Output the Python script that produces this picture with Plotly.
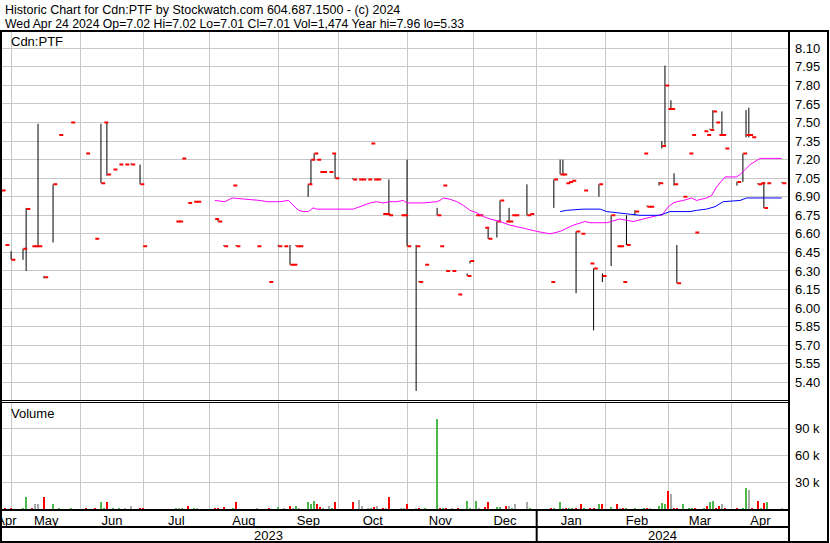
import plotly.graph_objects as go

# ---------------- data ----------------
# trading-day position of each bar (0 = first visible day)
day = [0.0, 1.2, 3.1, 6.9, 7.9, 9.8, 10.7, 11.7, 13.6, 16.5, 18.4, 22.2, 27.0, 29.9, 31.8, 32.8, 33.7,
       35.7, 37.6, 39.5, 41.4, 44.3, 45.2, 55.8, 56.7, 57.7, 59.6, 61.5, 62.5, 68.2, 69.2, 71.1, 74.0,
       75.0, 81.7, 85.5, 88.4, 90.3, 92.2, 93.2, 94.1, 95.1, 98.0, 98.9, 99.9, 100.8, 101.8, 102.7,
       104.7, 105.6, 106.6, 112.3, 114.2, 115.2, 117.1, 118.1, 119.0, 120.0, 121.9, 122.9, 123.8,
       127.7, 128.6, 129.6, 132.5, 133.4, 135.3, 139.2, 140.1, 141.1, 142.0, 144.0, 145.9, 148.8,
       149.7, 151.6, 152.6, 154.5, 155.5, 158.3, 159.3, 161.2, 162.2, 163.1, 164.1, 167.9, 168.9,
       175.6, 176.5, 178.5, 179.4, 180.4, 181.3, 182.3, 183.6, 185.2, 186.1, 188.1, 189.2, 190.9,
       192.0, 194.8, 196.7, 197.6, 198.6, 199.7, 202.4, 205.3, 206.3, 207.2, 210.1, 211.0, 212.0,
       213.0, 213.9, 214.9, 215.8, 217.8, 219.7, 220.6, 221.6, 224.5, 225.4, 226.4, 227.3, 228.3,
       229.3, 230.2, 231.2, 235.0, 236.9, 237.9, 238.8, 239.8, 241.7, 242.7, 243.6, 244.6, 249.4]
high = [6.96, 6.51, 6.46, 6.48, 6.81, 6.50, 6.50, 7.49, 6.26, 7.00, 7.40, 7.50, 7.25, 6.56, 7.49, 7.50, 7.50,
        7.12, 7.16, 7.16, 7.17, 7.16, 6.50, 6.70, 6.70, 7.21, 6.85, 6.86, 6.86, 6.72, 6.72, 6.51, 6.99,
        6.51, 6.50, 6.21, 6.51, 6.50, 6.51, 6.35, 6.51, 6.50, 7.00, 7.20, 7.25, 7.20, 7.10, 7.10,
        7.10, 7.25, 7.25, 7.05, 7.04, 7.04, 7.04, 7.33, 7.04, 7.04, 6.76, 6.76, 7.04,
        6.75, 6.75, 7.20, 6.51, 6.22, 6.35, 6.81, 6.50, 6.99, 6.30, 6.30, 6.11, 6.28,
        6.38, 6.75, 6.75, 6.65, 6.65, 6.70, 6.87, 6.70, 6.81, 6.75, 6.75, 7.00, 6.76,
        6.21, 7.04, 7.20, 7.20, 7.01, 7.02, 7.03, 6.62, 6.60, 6.95, 6.36, 6.32, 7.00,
        6.28, 6.75, 6.50, 6.50, 6.21, 6.75, 6.79, 7.25, 6.83, 6.82, 7.02, 7.35, 7.96,
        7.61, 7.68, 7.09, 6.51, 6.90, 7.25, 7.40, 6.61, 7.43, 7.40, 7.45, 7.60, 7.50,
        7.40, 7.59, 7.29, 7.02, 7.25, 7.60, 7.62, 7.38, 7.01, 7.01, 7.02, 7.01, 7.02]
low = [6.86, 6.51, 6.39, 6.39, 6.30, 6.50, 6.50, 6.50, 6.24, 6.53, 7.40, 7.50, 7.25, 6.56, 7.01, 7.50, 7.07,
       7.12, 7.16, 7.16, 7.16, 7.00, 6.50, 6.70, 6.70, 7.21, 6.85, 6.86, 6.86, 6.72, 6.70, 6.50, 6.99,
       6.50, 6.50, 6.21, 6.50, 6.50, 6.35, 6.35, 6.50, 6.50, 6.90, 7.00, 7.20, 7.20, 7.10, 7.10,
       7.10, 7.25, 7.05, 7.04, 7.04, 7.04, 7.04, 7.33, 7.04, 7.04, 6.76, 6.76, 6.75,
       6.75, 6.75, 6.50, 5.33, 6.21, 6.35, 6.75, 6.50, 6.99, 6.30, 6.30, 6.11, 6.26,
       6.36, 6.75, 6.75, 6.65, 6.56, 6.57, 6.70, 6.70, 6.70, 6.75, 6.75, 6.75, 6.76,
       6.21, 6.81, 7.08, 7.08, 7.01, 7.02, 7.03, 6.12, 6.60, 6.95, 6.36, 5.82, 6.90,
       6.21, 6.34, 6.50, 6.50, 6.21, 6.51, 6.75, 7.25, 6.82, 6.82, 6.99, 7.29, 7.32,
       7.61, 7.61, 6.99, 6.20, 6.90, 7.25, 7.40, 6.61, 7.43, 7.40, 7.44, 7.45, 7.50,
       7.40, 7.40, 7.29, 6.99, 7.02, 7.38, 7.38, 7.38, 7.00, 7.01, 6.81, 7.01, 7.01]
close = [6.95, 6.51, 6.39, 6.48, 6.80, 6.50, 6.50, 6.50, 6.25, 7.00, 7.40, 7.50, 7.25, 6.56, 7.01, 7.50, 7.08,
         7.12, 7.16, 7.16, 7.16, 7.00, 6.50, 6.70, 6.70, 7.21, 6.85, 6.86, 6.86, 6.72, 6.70, 6.50, 6.99,
         6.50, 6.50, 6.21, 6.50, 6.50, 6.35, 6.35, 6.50, 6.50, 7.00, 7.20, 7.25, 7.20, 7.10, 7.10,
         7.10, 7.25, 7.05, 7.04, 7.04, 7.04, 7.04, 7.33, 7.04, 7.04, 6.76, 6.76, 6.75,
         6.75, 6.75, 6.50, 6.50, 6.21, 6.35, 6.75, 6.50, 6.99, 6.30, 6.30, 6.11, 6.26,
         6.38, 6.75, 6.75, 6.65, 6.56, 6.70, 6.87, 6.70, 6.70, 6.75, 6.75, 6.75, 6.76,
         6.21, 7.04, 7.08, 7.08, 7.01, 7.02, 7.03, 6.62, 6.60, 6.95, 6.36, 6.32, 7.00,
         6.26, 6.75, 6.50, 6.50, 6.21, 6.51, 6.78, 7.25, 6.82, 6.82, 7.01, 7.31, 7.80,
         7.61, 7.61, 7.00, 6.20, 6.90, 7.25, 7.40, 6.61, 7.43, 7.40, 7.44, 7.59, 7.50,
         7.40, 7.40, 7.29, 7.02, 7.25, 7.40, 7.40, 7.38, 7.00, 7.01, 6.81, 7.01, 7.01]
volume = [2500, 2000, 1000, 2000, 14400, 1000, 5600, 5600, 14400, 5600, 1000, 1000, 1000, 2000, 8900, 2000, 8900,
          1000, 1000, 1000, 4400, 2000, 1000, 1000, 1000, 1000, 4400, 1000, 1000, 2000, 1000, 3300, 2000,
          8900, 1000, 1000, 3300, 1000, 4400, 1000, 4400, 1000, 8900, 5600, 10000, 5600, 3300, 2000,
          4400, 1000, 8900, 8900, 11100, 4400, 2000, 1000, 3300, 4400, 1000, 1000, 14400,
          2000, 1000, 6700, 1000, 2000, 1000, 101400, 2000, 2000, 1000, 1000, 1000, 10000,
          1000, 10000, 1000, 3300, 8900, 3300, 3300, 4400, 4400, 1000, 5600, 8900, 1000,
          1000, 1000, 8900, 2000, 1000, 1000, 1000, 1000, 6700, 2000, 2000, 2000, 5600,
          5600, 3300, 5600, 1000, 1000, 1000, 1000, 1000, 1000, 1000, 4400, 7800, 6700,
          21100, 17800, 1000, 1000, 6700, 1000, 1000, 1000, 2000, 4400, 8900, 10000, 1000,
          4400, 6700, 2000, 2000, 2000, 24400, 22200, 2000, 10000, 2000, 7800, 8900, 1474]

# moving averages (magenta = short, blue = long)
ma_short_day = [68.2, 71.4, 73.7, 78.4, 82.6, 84.8, 89.0, 91.7, 93.3, 94.9, 96.5, 98.1, 99.6, 100.7,
                112.4, 115.6, 117.8, 119.9, 122.0, 124.2, 126.3, 128.4, 129.5, 134.8, 139.1, 140.1,
                141.2, 143.3, 145.5, 147.6, 149.7, 151.9, 154.0, 156.1, 159.3, 162.5, 164.6, 167.8,
                171.0, 175.3, 178.5, 182.7, 186.5, 188.1, 193.4, 197.6, 201.9, 206.2, 209.9, 211.0,
                213.1, 214.7, 215.8, 217.9, 220.5, 222.1, 225.3, 226.9, 228.5, 231.2, 234.9, 236.0,
                239.2, 242.4, 245.6, 249.3]
ma_short = [6.87, 6.86, 6.89, 6.88, 6.87, 6.86, 6.86, 6.87, 6.83, 6.79, 6.78, 6.78, 6.81, 6.80,
            6.80, 6.83, 6.85, 6.86, 6.85, 6.86, 6.86, 6.87, 6.85, 6.85, 6.86, 6.87,
            6.89, 6.88, 6.86, 6.83, 6.79, 6.77, 6.74, 6.72, 6.70, 6.67, 6.66, 6.64,
            6.62, 6.60, 6.62, 6.67, 6.70, 6.69, 6.69, 6.72, 6.70, 6.73, 6.75, 6.75,
            6.82, 6.85, 6.86, 6.87, 6.89, 6.87, 6.89, 6.91, 6.98, 7.06, 7.06, 7.08,
            7.16, 7.21, 7.21, 7.21]
ma_long_day = [178.5, 180.6, 185.9, 191.3, 193.4, 197.6, 199.8, 204.0, 209.9, 211.5, 213.6, 216.8,
               220.0, 222.1, 225.3, 228.0, 230.6, 236.0, 238.1, 246.6, 249.3]
ma_long = [6.78, 6.79, 6.80, 6.80, 6.78, 6.77, 6.76, 6.75, 6.75, 6.76, 6.78, 6.78,
           6.78, 6.79, 6.80, 6.82, 6.86, 6.87, 6.89, 6.89, 6.89]

# axes / labels
month_names = ["Apr", "May", "Jun", "Jul", "Aug", "Sep", "Oct", "Nov", "Dec", "Jan", "Feb", "Mar", "Apr"]
month_starts = [3.29, 25.34, 45.34, 66.42, 88.47, 107.64, 129.68, 150.77, 171.02, 193.07, 213.07, 233.32]
year_names = ["2023", "2024"]
year_break = 171.02
x_range = [-0.13, 251.63]
price_ticks = [5.40, 5.55, 5.70, 5.85, 6.00, 6.15, 6.30, 6.45, 6.60, 6.75, 6.90, 7.05, 7.20,
               7.35, 7.50, 7.65, 7.80, 7.95, 8.10]
price_range = [5.2528, 8.2399]
vol_ticks = [30000, 60000, 90000]
vol_tick_text = ["30 k", "60 k", "90 k"]
vol_range = [0, 118900]

title1 = "Historic Chart for Cdn:PTF by Stockwatch.com 604.687.1500 - (c) 2024"
title2 = "Wed Apr 24 2024 Op=7.02 Hi=7.02 Lo=7.01 Cl=7.01 Vol=1,474 Year hi=7.96 lo=5.33"

# ---------------- figure ----------------
FONT = "Liberation Sans, Arial, sans-serif"
GRID = "#c8c8c8"
W, H = 830, 543
PL, PR, PT, PB = 1, 789, 31, 509          # plot area in pixels


def pxx(p):
    return (p - PL) / (PR - PL)


def pxy(p):
    return (PB - p) / (PB - PT)


fig = go.Figure()

# high-low lines
hx, hy = [], []
for d, hi, lo in zip(day, high, low):
    if hi > lo:
        hx += [d, d, None]
        hy += [lo, hi, None]
fig.add_trace(go.Scatter(x=hx, y=hy, mode="lines", line=dict(color="black", width=1),
                         xaxis="x", yaxis="y", hoverinfo="skip", showlegend=False))

# close ticks
cx, cy = [], []
for d, c in zip(day, close):
    cx += [d + 0.1, d + 1.35, None]
    cy += [c, c, None]
fig.add_trace(go.Scatter(x=cx, y=cy, mode="lines", line=dict(color="#ff0000", width=2),
                         xaxis="x", yaxis="y", hoverinfo="skip", showlegend=False))

# moving averages
fig.add_trace(go.Scatter(x=ma_short_day, y=ma_short, mode="lines", line=dict(color="#ff00ff", width=1),
                         xaxis="x", yaxis="y", showlegend=False))
fig.add_trace(go.Scatter(x=ma_long_day, y=ma_long, mode="lines", line=dict(color="#0000ff", width=1),
                         xaxis="x", yaxis="y", showlegend=False))

# volume bars coloured by close change
vcol = []
prev = None
for c in close:
    if prev is None or c == prev:
        vcol.append("#a9a9a9")
    elif c > prev:
        vcol.append("#4cb84c")
    else:
        vcol.append("#ff0000")
    prev = c
fig.add_trace(go.Bar(x=day, y=volume, width=0.64, marker=dict(color=vcol, line=dict(width=0)),
                     xaxis="x2", yaxis="y2", showlegend=False))

# month label positions: centre of the visible part of each month
bounds = [x_range[0]] + month_starts + [x_range[1]]
month_centers = [(a + b) / 2 for a, b in zip(bounds[:-1], bounds[1:])]
year_centers = [(x_range[0] + year_break) / 2, (year_break + x_range[1]) / 2]

price_bottom = pxy(400.5)
vol_top = pxy(402.5)

fig.update_layout(
    width=W, height=H,
    margin=dict(l=PL, r=W - PR, t=PT, b=H - PB, pad=0, autoexpand=False),
    paper_bgcolor="white", plot_bgcolor="white",
    font=dict(family=FONT, size=13, color="black"),
    showlegend=False, bargap=0,
    xaxis=dict(domain=[0, 1], anchor="y", range=x_range, tickmode="array", tickvals=month_starts,
               showticklabels=False, showgrid=True, gridcolor=GRID, gridwidth=1, ticks="",
               zeroline=False, showline=False, automargin=False),
    xaxis2=dict(domain=[0, 1], anchor="y2", range=x_range, matches="x", tickmode="array",
                tickvals=month_centers, ticktext=month_names, showgrid=False, ticks="",
                ticklabelstandoff=2, ticklabeloverflow="allow", automargin=False,
                minor=dict(tickmode="array", tickvals=month_starts, showgrid=True, gridcolor=GRID,
                           gridwidth=1, ticks=""),
                zeroline=False, showline=False, tickfont=dict(size=13)),
    yaxis=dict(domain=[price_bottom, 1], anchor="x", side="right", range=price_range,
               tickmode="array", tickvals=price_ticks, tickformat=".2f", showgrid=True,
               gridcolor=GRID, gridwidth=1, ticks="", zeroline=False, showline=False,
               ticklabelstandoff=5, tickfont=dict(size=13), automargin=False),
    yaxis2=dict(domain=[0, vol_top], anchor="x2", side="right", range=vol_range,
                tickmode="array", tickvals=vol_ticks, ticktext=vol_tick_text, showgrid=True,
                gridcolor=GRID, gridwidth=1, ticks="", zeroline=False, showline=False,
                ticklabelstandoff=5, tickfont=dict(size=13), automargin=False),
)

# frame lines
frame = [
    (pxx(0), pxy(31), pxx(829), pxy(31), 2),        # top
    (pxx(1), pxy(31), pxx(1), pxy(543), 2),          # left
    (pxx(828), pxy(31), pxx(828), pxy(543), 2),      # right outer
    (pxx(789), pxy(31), pxx(789), pxy(543), 2),      # right of plot
    (pxx(1), pxy(400.5), pxx(789), pxy(400.5), 1),   # panel separator
    (pxx(1), pxy(402.5), pxx(789), pxy(402.5), 1),
    (pxx(1), pxy(510), pxx(789), pxy(510), 2),       # axis line
    (pxx(1), pxy(527), pxx(789), pxy(527), 2),       # year row
    (pxx(0), pxy(542), pxx(829), pxy(542), 2),       # bottom
]
shapes = [dict(type="line", xref="paper", yref="paper", x0=a, y0=b, x1=c, y1=d,
               line=dict(color="black", width=w), layer="above") for a, b, c, d, w in frame]
shapes.append(dict(type="line", xref="x2", yref="paper", x0=year_break, x1=year_break,
                   y0=pxy(510), y1=pxy(542), line=dict(color="black", width=2), layer="above"))
fig.update_layout(shapes=shapes)

ann = [
    dict(text=title1, x=pxx(3), y=pxy(9.5), size=12.5),
    dict(text=title2, x=pxx(3), y=pxy(24), size=12.25),
    dict(text="Cdn:PTF", x=pxx(9), y=pxy(41.5), size=13),
    dict(text="Volume", x=pxx(9), y=pxy(413), size=13),
]
for a in ann:
    fig.add_annotation(text=a["text"], xref="paper", yref="paper", x=a["x"], y=a["y"],
                       xanchor="left", yanchor="middle", showarrow=False,
                       font=dict(family=FONT, size=a["size"], color="black"))
for name, xc in zip(year_names, year_centers):
    fig.add_annotation(text=name, xref="x2", yref="paper", x=xc, y=pxy(535),
                       xanchor="center", yanchor="middle", showarrow=False,
                       font=dict(family=FONT, size=13, color="black"))

fig.write_html("out.html", config={"displayModeBar": False}, post_script=(
    "document.body.style.margin='0px';document.body.style.padding='0px';"
    "document.body.style.overflow='hidden';"))
